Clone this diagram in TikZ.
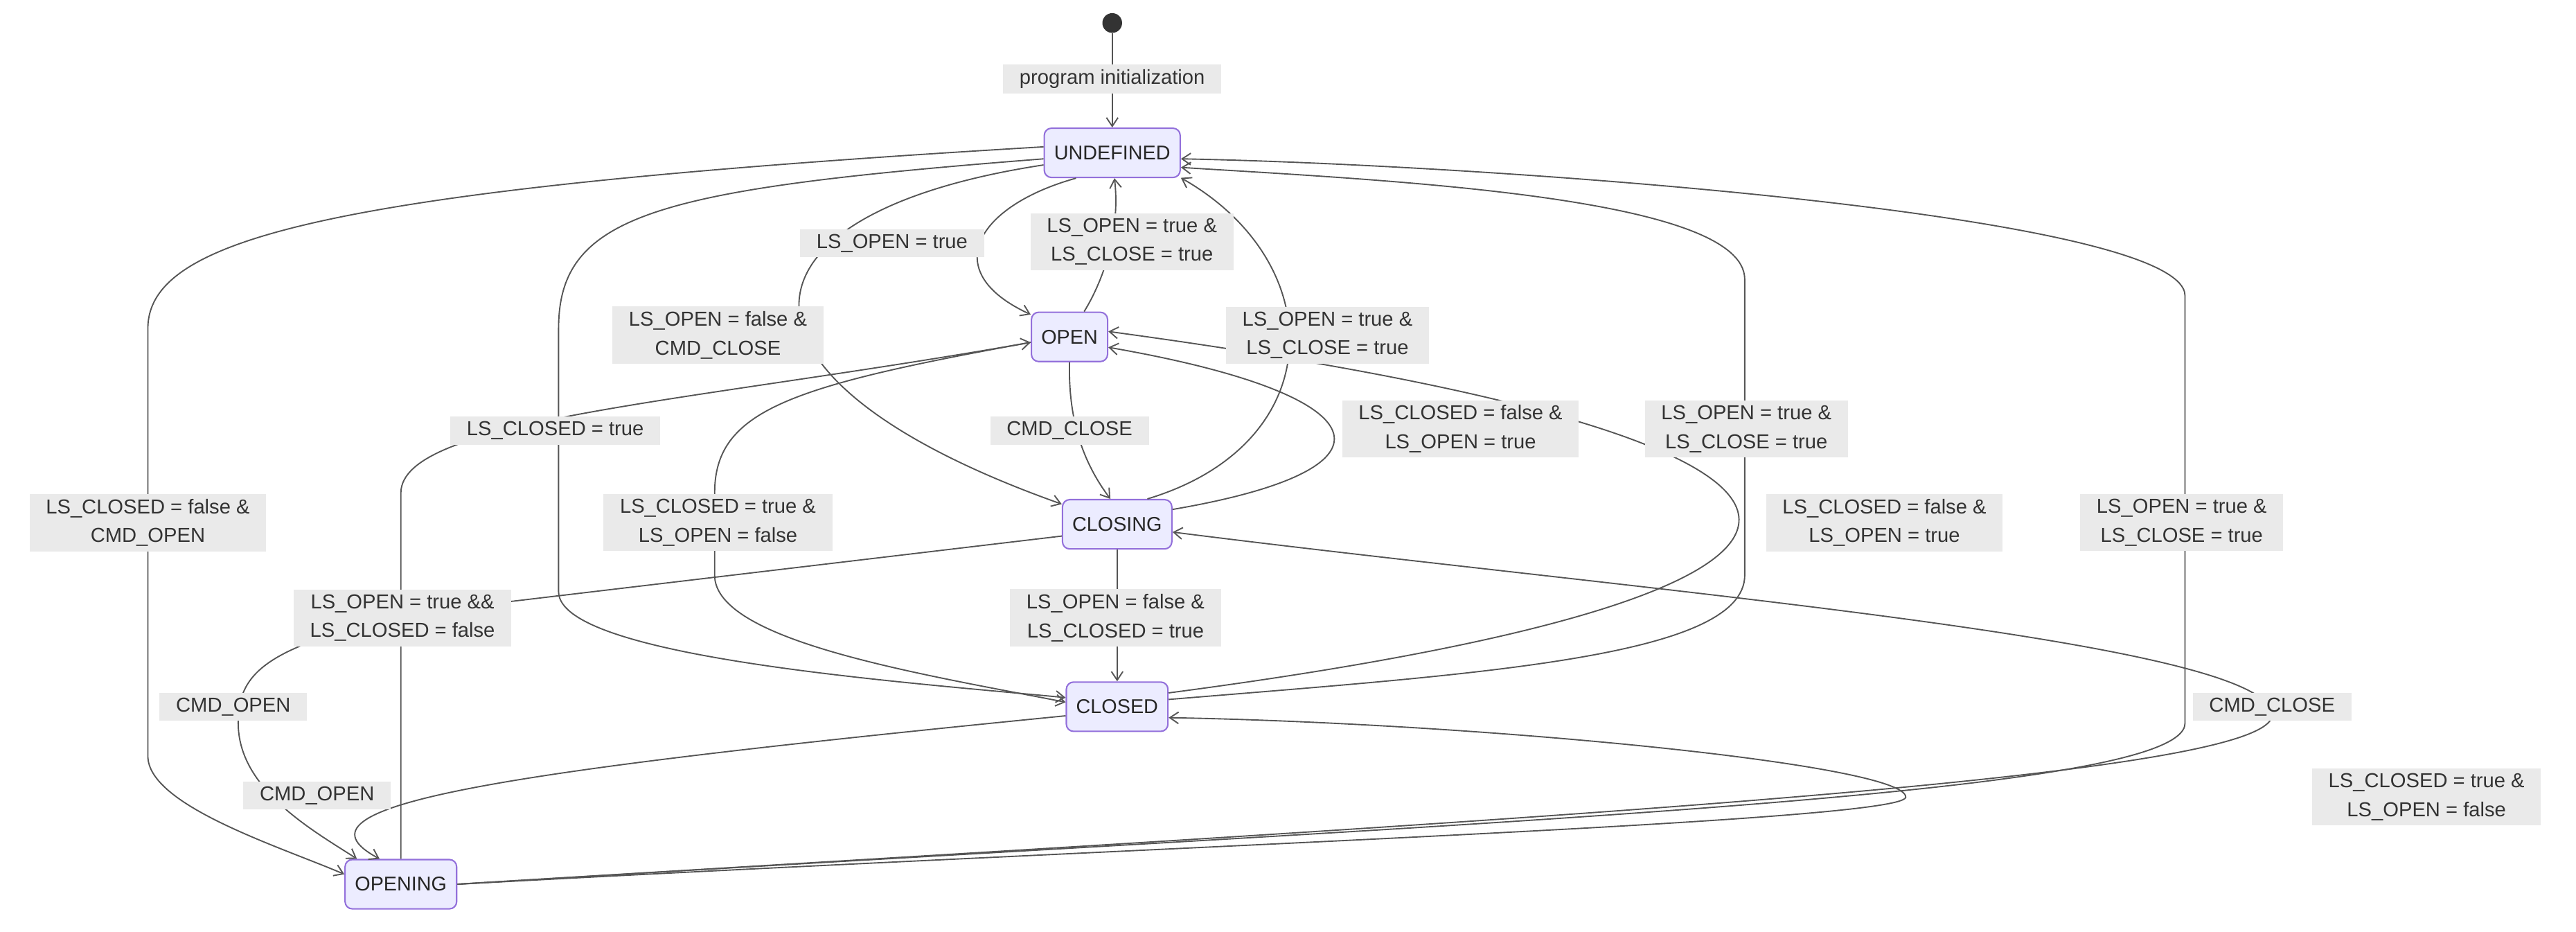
\documentclass[tikz,border=0pt]{standalone}
\usepackage{fontspec}
\setmainfont{Liberation Sans}
\usetikzlibrary{arrows.meta}
\definecolor{nfill}{HTML}{ECECFF}
\definecolor{ndraw}{HTML}{9370DB}
\definecolor{lfill}{HTML}{EAEAEA}
\definecolor{edge}{HTML}{555555}
\begin{document}
\begin{tikzpicture}[x=0.02cm,y=-0.02cm,
  st/.style={draw=ndraw,fill=nfill,rounded corners=2.5pt,line width=0.5pt,minimum height=0.6cm,inner xsep=0.12cm,font=\fontsize{6.9}{8}\selectfont,text=black!85},
  lb/.style={fill=lfill,align=center,font=\fontsize{7}{10}\selectfont,text=black!80,inner xsep=0.2cm,inner ysep=0.06cm},
  e/.style={draw=edge,line width=0.45pt,-{Straight Barb[length=3pt,width=4pt]}}]
\useasboundingbox (0,0) rectangle (1568,567);
\node[circle,fill=black!80,inner sep=0,minimum size=0.24cm] (S) at (677,14) {};
\node[st] (U) at (677,93) {UNDEFINED};
\node[st] (O) at (651,205) {OPEN};
\node[st] (CG) at (680,319) {CLOSING};
\node[st] (CD) at (680,430) {CLOSED};
\node[st] (OG) at (244,538) {OPENING};

\draw[e] (S) -- (U);
\draw[e] (U.215) .. controls (595,125) and (570,165) .. (O.150);
\draw[e] (O.60) .. controls (672,170) and (682,140) .. (U.-85);
\draw[e] (U.190) .. controls (440,130) and (430,230) .. (CG.160);
\draw[e] (CG.40) .. controls (810,270) and (810,160) .. (U.-20);
\draw[e] (O.south) .. controls (650,260) and (662,285) .. (CG.105);
\draw[e] (CG.15) .. controls (860,285) and (840,240) .. (O.-15);
\draw[e] (CD.15) .. controls (1180,360) and (1180,270) .. (O.8);
\draw[e] (U.185) .. controls (400,115) and (340,130) .. (340,200) -- (340,360) .. controls (340,400) and (550,415) .. (CD.170);
\draw[e] (O.188) .. controls (480,235) and (435,250) .. (435,300) -- (435,350) .. controls (435,390) and (560,410) .. (CD.175);
\draw[e] (CG) -- (CD);
\draw[e] (CG.192) -- (260,372) .. controls (160,392) and (145,410) .. (145,440) .. controls (145,480) and (190,505) .. (OG.150);
\draw[e] (U.175) .. controls (200,115) and (90,145) .. (90,200) -- (90,460) .. controls (90,490) and (170,515) .. (OG.170);
\draw[e] (CD.190) .. controls (300,470) and (170,490) .. (OG.130);
\draw[e] (OG.north) -- (244,300) .. controls (244,255) and (420,245) .. (O.188);
\draw[e] (OG.east) .. controls (700,515) and (1160,500) .. (1160,485) .. controls (1160,465) and (900,440) .. (CD.-12);
\draw[e] (OG.east) .. controls (900,500) and (1383,475) .. (1383,435) .. controls (1383,390) and (1000,360) .. (CG.-8);
\draw[e] (OG.east) .. controls (900,500) and (1330,485) .. (1330,440) -- (1330,180) .. controls (1330,130) and (900,100) .. (U.-5);
\draw[e] (CD.8) .. controls (900,410) and (1062,400) .. (1062,350) -- (1062,170) .. controls (1062,120) and (850,110) .. (U.-12);

\node[lb] (l0) at (677,48) {program initialization};
\node[lb] (l1) at (543,148) {LS\_OPEN = true};
\node[lb] (l2) at (689,147) {LS\_OPEN = true \&\\LS\_CLOSE = true};
\node[lb] (l3) at (437,204) {LS\_OPEN = false \&\\CMD\_CLOSE};
\node[lb] (l4) at (808,204) {LS\_OPEN = true \&\\LS\_CLOSE = true};
\node[lb] (l5) at (338,262) {LS\_CLOSED = true};
\node[lb] (l6) at (651,262) {CMD\_CLOSE};
\node[lb] (l7) at (889,261) {LS\_CLOSED = false \&\\LS\_OPEN = true};
\node[lb] (l8) at (1063,261) {LS\_OPEN = true \&\\LS\_CLOSE = true};
\node[lb] (l9) at (90,318) {LS\_CLOSED = false \&\\CMD\_OPEN};
\node[lb] (l10) at (437,318) {LS\_CLOSED = true \&\\LS\_OPEN = false};
\node[lb] (l11) at (1147,318) {LS\_CLOSED = false \&\\LS\_OPEN = true};
\node[lb] (l12) at (1328,318) {LS\_OPEN = true \&\\LS\_CLOSE = true};
\node[lb] (l13) at (245,376) {LS\_OPEN = true \&\&\\LS\_CLOSED = false};
\node[lb] (l14) at (679,376) {LS\_OPEN = false \&\\LS\_CLOSED = true};
\node[lb] (l15) at (142,430) {CMD\_OPEN};
\node[lb] (l16) at (1383,430) {CMD\_CLOSE};
\node[lb] (l17) at (193,484) {CMD\_OPEN};
\node[lb] (l18) at (1477,485) {LS\_CLOSED = true \&\\LS\_OPEN = false};
\end{tikzpicture}
\end{document}
